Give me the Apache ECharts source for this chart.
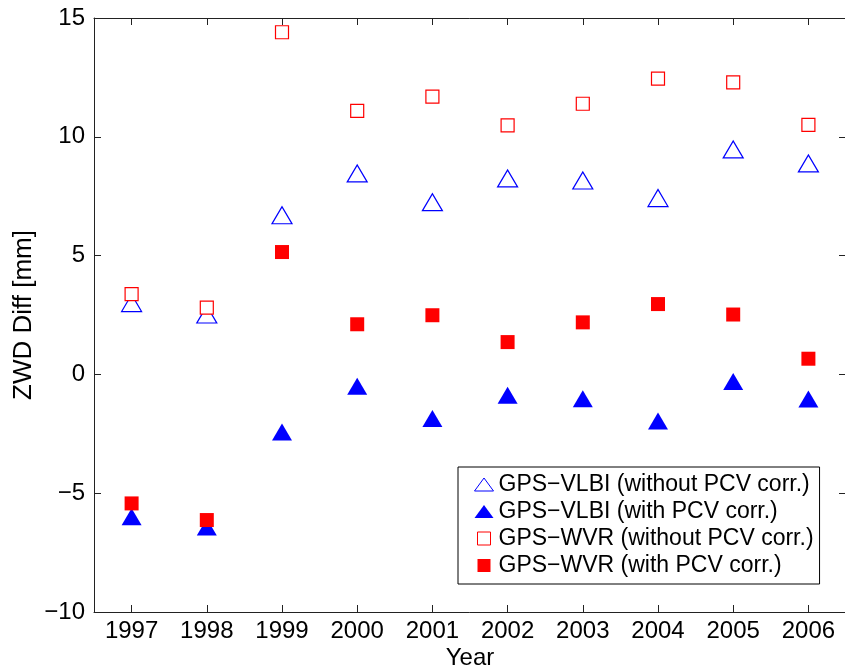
<!DOCTYPE html>
<html>
<head>
<meta charset="utf-8">
<script src="https://cdn.jsdelivr.net/npm/echarts@6/dist/echarts.min.js"></script>
<style>
  html, body { margin: 0; padding: 0; background: #fff; }
  #chart { width: 845px; height: 671px; }
</style>
</head>
<body>
<div id="chart"></div>
<script>
// Yearly mean ZWD differences (mm)
const years = ['1997', '1998', '1999', '2000', '2001', '2002', '2003', '2004', '2005', '2006'];
const vlbiNoPcv = [3.00, 2.52, 6.70, 8.46, 7.25, 8.25, 8.16, 7.42, 9.47, 8.88];
const vlbiPcv = [-5.99, -6.42, -2.42, -0.50, -1.86, -0.88, -1.03, -1.96, -0.30, -1.04];
const wvrNoPcv = [3.38, 2.81, 14.40, 11.09, 11.69, 10.48, 11.39, 12.45, 12.29, 10.50];
const wvrPcv = [-5.43, -6.13, 5.15, 2.11, 2.49, 1.36, 2.19, 2.96, 2.52, 0.66];
const yTicks = { min: -10, max: 15, step: 5 };

const names = [
  'GPS\u2212VLBI (without PCV corr.)',
  'GPS\u2212VLBI (with PCV corr.)',
  'GPS\u2212WVR (without PCV corr.)',
  'GPS\u2212WVR (with PCV corr.)'
];

const FONT = '"Liberation Sans", Arial, Helvetica, sans-serif';
const AXIS = '#222';
const triIcon = 'path://M9.5,0L19,13L0,13Z';
const sqIcon = 'path://M0,0L13,0L13,13L0,13Z';

const chart = echarts.init(document.getElementById('chart'), null, { renderer: 'canvas' });

const baseX = {
  type: 'category',
  data: years,
  boundaryGap: true,
  axisLine: { show: true, onZero: false, lineStyle: { color: AXIS, width: 1 } },
  axisTick: { show: true, alignWithLabel: true, inside: true, length: 7, lineStyle: { color: AXIS } },
  splitLine: { show: false }
};
const baseY = {
  type: 'value',
  min: yTicks.min,
  max: yTicks.max,
  interval: yTicks.step,
  axisLine: { show: true, onZero: false, lineStyle: { color: AXIS, width: 1 } },
  axisTick: { show: true, inside: true, length: 7, lineStyle: { color: AXIS } },
  splitLine: { show: false }
};

chart.setOption({
  animation: false,
  backgroundColor: '#fff',
  textStyle: { fontFamily: FONT },
  grid: { left: 94, top: 18, width: 752, height: 594, containLabel: false, outerBoundsMode: 'none' },
  xAxis: [
    Object.assign({}, baseX, {
      position: 'bottom',
      name: 'Year',
      nameLocation: 'middle',
      nameGap: 34,
      nameMoveOverlap: false,
      nameTextStyle: { fontSize: 24, color: '#000', fontFamily: FONT },
      axisLabel: { fontSize: 24, color: '#000', margin: 7, fontFamily: FONT }
    }),
    Object.assign({}, baseX, { position: 'top', axisLabel: { show: false } })
  ],
  yAxis: [
    Object.assign({}, baseY, {
      position: 'left',
      name: 'ZWD Diff [mm]',
      nameLocation: 'middle',
      nameGap: 57,
      nameMoveOverlap: false,
      nameTextStyle: { fontSize: 26, color: '#000', fontFamily: FONT },
      axisLabel: {
        fontSize: 24, color: '#000', margin: 9, fontFamily: FONT,
        formatter: v => (v < 0 ? '\u2212' + Math.abs(v) : String(v))
      }
    }),
    Object.assign({}, baseY, { position: 'right', axisLabel: { show: false } })
  ],
  legend: {
    orient: 'vertical',
    left: 458,
    top: 467,
    padding: [6, 6, 7, 16],
    itemGap: 4,
    itemWidth: 19,
    itemHeight: 13,
    symbolKeepAspect: true,
    backgroundColor: '#fff',
    borderColor: '#000',
    borderWidth: 1,
    borderRadius: 0,
    textStyle: { fontSize: 23, color: '#000', fontFamily: FONT, lineHeight: 23 },
    data: [
      { name: names[0], icon: triIcon, itemStyle: { color: '#fff', borderColor: '#0000ff', borderWidth: 1 } },
      { name: names[1], icon: triIcon, itemStyle: { color: '#0000ff', borderWidth: 0 } },
      { name: names[2], icon: sqIcon, itemStyle: { color: '#fff', borderColor: '#ff0000', borderWidth: 1 } },
      { name: names[3], icon: sqIcon, itemStyle: { color: '#ff0000', borderWidth: 0 } }
    ]
  },
  series: [
    {
      name: names[0], type: 'scatter', data: vlbiNoPcv,
      symbol: 'triangle', symbolSize: [20, 17],
      itemStyle: { color: '#fff', borderColor: '#0000ff', borderWidth: 1.2, opacity: 1 },
      z: 2
    },
    {
      name: names[1], type: 'scatter', data: vlbiPcv,
      symbol: 'triangle', symbolSize: [20, 17],
      itemStyle: { color: '#0000ff', borderWidth: 0, opacity: 1 },
      z: 3
    },
    {
      name: names[2], type: 'scatter', data: wvrNoPcv,
      symbol: 'rect', symbolSize: 13,
      itemStyle: { color: '#fff', borderColor: '#ff0000', borderWidth: 1.2, opacity: 1 },
      z: 4
    },
    {
      name: names[3], type: 'scatter', data: wvrPcv,
      symbol: 'rect', symbolSize: 14,
      itemStyle: { color: '#ff0000', borderWidth: 0, opacity: 1 },
      z: 5
    }
  ]
});
</script>
</body>
</html>
